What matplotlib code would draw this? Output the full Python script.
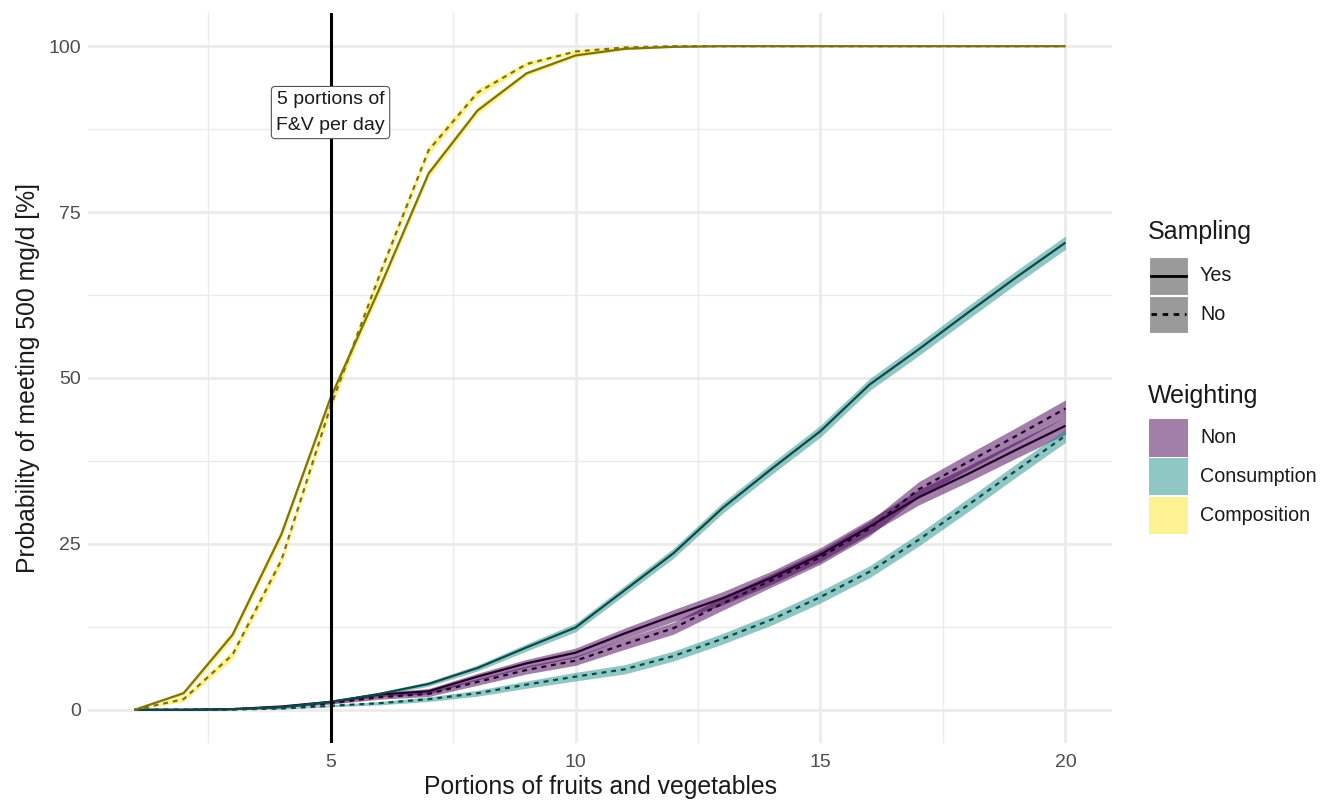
import matplotlib
matplotlib.use("Agg")
import matplotlib.pyplot as plt
from matplotlib.patches import Rectangle
from matplotlib.lines import Line2D
import numpy as np

plt.rcParams['font.family'] = ['Liberation Sans', 'DejaVu Sans']

# ---------------- data ----------------
portions = list(range(1, 21))

comp_yes = [0, 2.5, 11.3, 26.5, 47.0, 63.5, 80.8, 90.3, 95.9, 98.6, 99.6, 99.9, 100, 100, 100, 100, 100, 100, 100, 100]
comp_no = [0, 1.6, 8.3, 22.6, 45.7, 65.5, 84.3, 93.0, 97.3, 99.2, 99.8, 100, 100, 100, 100, 100, 100, 100, 100, 100]
cons_yes = [0, 0, 0.1, 0.4, 1.2, 2.4, 3.9, 6.3, 9.4, 12.4, 18.0, 23.6, 30.4, 36.3, 42.0, 49.0, 54.3, 59.8, 65.2, 70.4]
cons_no = [0, 0, 0.05, 0.2, 0.6, 1.0, 1.6, 2.5, 3.8, 5.0, 6.1, 8.1, 10.7, 13.6, 17.0, 20.8, 25.6, 30.8, 36.1, 41.3]
non_yes = [0, 0, 0.1, 0.5, 1.2, 2.3, 2.8, 5.0, 7.0, 8.6, 11.5, 14.2, 16.8, 19.9, 23.4, 27.6, 32.0, 35.5, 39.2, 42.8]
non_no = [0, 0, 0.1, 0.4, 1.0, 1.9, 2.4, 4.2, 6.0, 7.4, 9.9, 12.3, 16.0, 19.5, 23.0, 27.3, 33.2, 37.3, 41.3, 45.4]

# half-widths of the uncertainty ribbons
comp_ci = [0, 0.4, 0.7, 0.8, 0.8, 0.8, 0.7, 0.6, 0.4, 0.3, 0.2, 0.1, 0, 0, 0, 0, 0, 0, 0, 0]
cons_ci = [0, 0, 0.05, 0.1, 0.15, 0.25, 0.35, 0.45, 0.55, 0.65, 0.7, 0.75, 0.8, 0.85, 0.9, 0.9, 0.95, 1.0, 1.0, 1.0]
non_ci = [0, 0, 0, 0.1, 0.15, 0.3, 0.4, 0.5, 0.6, 0.7, 0.8, 0.9, 1.0, 1.0, 1.05, 1.1, 1.15, 1.2, 1.25, 1.3]

weightings = ["Non", "Consumption", "Composition"]
samplings = ["Yes", "No"]
fill_colors = {"Non": "#440154", "Consumption": "#21908C", "Composition": "#FDE725"}
line_colors = {"Non": "#22002A", "Consumption": "#104846", "Composition": "#7E7312"}

series = {
    ("Composition", "Yes"): (comp_yes, comp_ci),
    ("Composition", "No"): (comp_no, comp_ci),
    ("Consumption", "Yes"): (cons_yes, cons_ci),
    ("Consumption", "No"): (cons_no, cons_ci),
    ("Non", "Yes"): (non_yes, non_ci),
    ("Non", "No"): (non_no, non_ci),
}

x_ticks = [5, 10, 15, 20]
y_ticks = [0, 25, 50, 75, 100]

# ---------------- figure ----------------
fig = plt.figure(figsize=(13.2, 8), dpi=100)
ax = fig.add_axes([88 / 1320, 57 / 800, (1112 - 88) / 1320, (743 - 13) / 800])

x = np.array(portions)
ax.set_xlim(0.05, 20.95)
ax.set_ylim(-5, 105)

# grid
for v in x_ticks:
    ax.axvline(v, color="#EBEBEB", lw=2.0, zorder=0)
for v in [2.5, 7.5, 12.5, 17.5]:
    ax.axvline(v, color="#EBEBEB", lw=1.0, zorder=0)
for v in y_ticks:
    ax.axhline(v, color="#EBEBEB", lw=2.0, zorder=0)
for v in [12.5, 37.5, 62.5, 87.5]:
    ax.axhline(v, color="#EBEBEB", lw=1.0, zorder=0)

order = [("Non", "Yes"), ("Non", "No"), ("Consumption", "Yes"), ("Consumption", "No"),
         ("Composition", "Yes"), ("Composition", "No")]
for (w, s) in order:
    vals, ci = series[(w, s)]
    vals = np.array(vals, dtype=float)
    ci = np.array(ci, dtype=float)
    ax.fill_between(x, vals - ci, vals + ci, color=fill_colors[w], alpha=0.5, lw=0, zorder=2)
for (w, s) in order:
    vals, ci = series[(w, s)]
    ls = "-" if s == "Yes" else (0, (2.2, 2.2))
    ax.plot(x, vals, color=line_colors[w], lw=1.6, linestyle=ls, zorder=3,
            solid_capstyle="butt", dash_capstyle="butt")

ax.axvline(5, color="black", lw=2.2, zorder=4)
ax.text(5, 90.0, "5 portions of\nF&V per day", ha="center", va="center", fontsize=14,
        color="#1a1a1a", linespacing=1.65, zorder=5,
        bbox=dict(boxstyle="round,pad=0.25,rounding_size=0.2", fc="white", ec="#555555", lw=0.8))

for sp in ax.spines.values():
    sp.set_visible(False)
ax.set_xticks(x_ticks)
ax.set_yticks(y_ticks)
ax.set_xticklabels([str(v) for v in x_ticks])
ax.set_yticklabels([str(v) for v in y_ticks])
ax.tick_params(axis="x", length=0, labelsize=14, labelcolor="#4D4D4D", pad=8)
ax.tick_params(axis="y", length=0, labelsize=14, labelcolor="#4D4D4D", pad=5)
ax.set_xlabel("Portions of fruits and vegetables", fontsize=17.8, color="#1a1a1a", labelpad=3)
ax.set_ylabel("Probability of meeting 500 mg/d [%]", fontsize=17.8, color="#1a1a1a", labelpad=6)

# ---------------- legends (manual, figure pixels) ----------------
W, H = 1320, 800
def fx(px):
    return px / W
def fy(py):
    return 1 - py / H

fig.text(fx(1148), fy(232), "Sampling", fontsize=18, color="#1a1a1a", va="center", ha="left")
key_left, key_w = 1149, 39
key_h = 37.5
for i, s in enumerate(samplings):
    top = 257 + i * 38.5
    fig.patches.append(Rectangle((fx(key_left), fy(top + key_h)), key_w / W, key_h / H,
                                 transform=fig.transFigure, fc="#9A9A9A", ec="white", lw=0.8))
    ls = "-" if s == "Yes" else (0, (2.0, 2.0))
    fig.lines.append(Line2D([fx(key_left + 2), fx(key_left + key_w - 2)],
                            [fy(top + key_h / 2)] * 2, transform=fig.transFigure,
                            color="black", lw=2.0, linestyle=ls))
    fig.text(fx(1200), fy(top + key_h / 2), s, fontsize=14.2, color="#1a1a1a", va="center", ha="left")

fig.text(fx(1148), fy(396), "Weighting", fontsize=18, color="#1a1a1a", va="center", ha="left")
for i, w in enumerate(weightings):
    top = 419 + i * 38.8
    fig.patches.append(Rectangle((fx(key_left), fy(top + key_h)), key_w / W, key_h / H,
                                 transform=fig.transFigure, fc=fill_colors[w], alpha=0.5, ec="none"))
    fig.text(fx(1200), fy(top + key_h / 2), w, fontsize=14.2, color="#1a1a1a", va="center", ha="left")

fig.savefig("out.png", dpi=100, facecolor="white")
